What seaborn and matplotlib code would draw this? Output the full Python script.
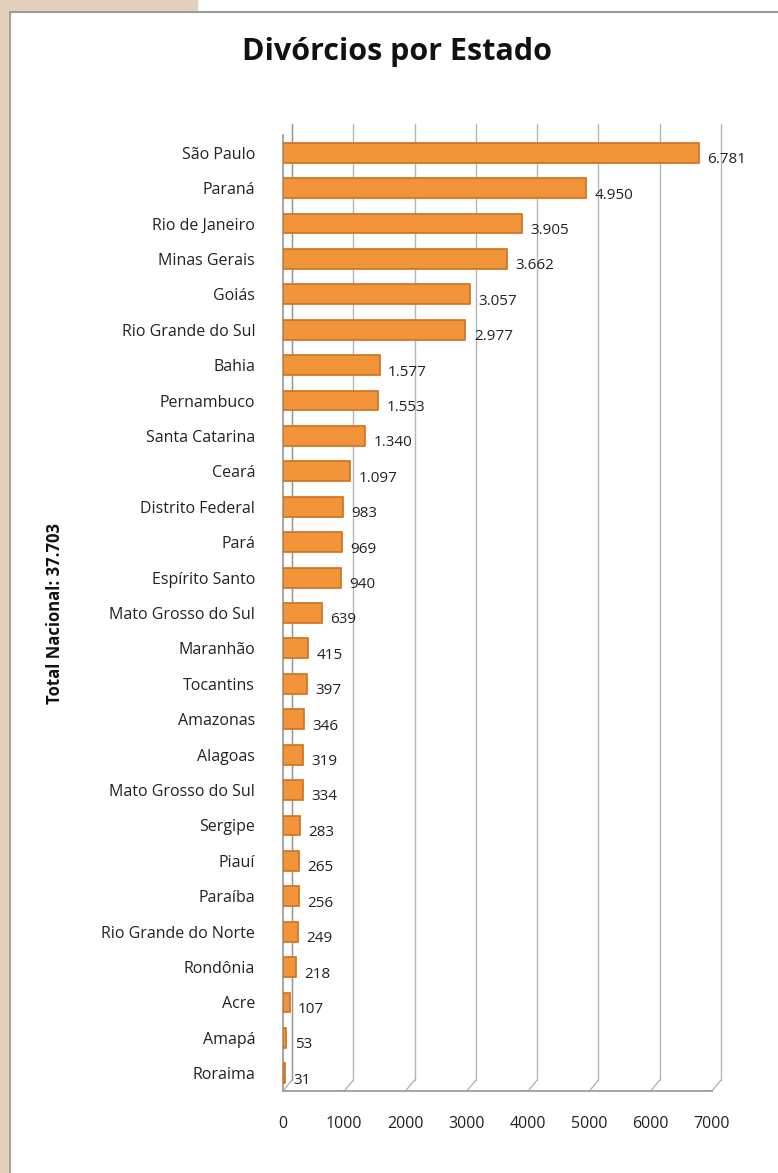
import matplotlib
matplotlib.use("Agg")
import matplotlib.pyplot as plt
import matplotlib.transforms as mtransforms
from matplotlib.patches import Rectangle
import seaborn as sns
import pandas as pd

states = ["São Paulo", "Paraná", "Rio de Janeiro", "Minas Gerais", "Goiás",
          "Rio Grande do Sul", "Bahia", "Pernambuco", "Santa Catarina", "Ceará",
          "Distrito Federal", "Pará", "Espírito Santo", "Mato Grosso do Sul",
          "Maranhão", "Tocantins", "Amazonas", "Alagoas", "Mato Grosso do Sul",
          "Sergipe", "Piauí", "Paraíba", "Rio Grande do Norte", "Rondônia",
          "Acre", "Amapá", "Roraima"]
divorces = [6781, 4950, 3905, 3662, 3057, 2977, 1577, 1553, 1340, 1097,
            983, 969, 940, 639, 415, 397, 346, 319, 334, 283, 265, 256,
            249, 218, 107, 53, 31]
xticks = [0, 1000, 2000, 3000, 4000, 5000, 6000, 7000]
title = "Divórcios por Estado"
ylabel = "Total Nacional: 37.703"

# unique row keys (two entries share the same label in the source chart)
df = pd.DataFrame({"estado": states, "divorcios": divorces})
df["key"] = [f"{i:02d}" for i in range(len(df))]

sns.set_theme(style="white")
plt.rcParams["font.family"] = ["Open Sans", "DejaVu Sans"]

W, H = 778, 1173
fig = plt.figure(figsize=(W / 100, H / 100), dpi=100)
fig.patch.set_facecolor("white")

# Decorative background frame
tan = "#e2d0bd"
fig.add_artist(Rectangle((0, 0), 10 / W, 1, transform=fig.transFigure, color=tan, zorder=0))
fig.add_artist(Rectangle((0, 1 - 11 / H), 197 / W, 11 / H, transform=fig.transFigure, color=tan, zorder=0))
fig.add_artist(plt.Line2D([10 / W, 1], [1 - 12 / H, 1 - 12 / H], transform=fig.transFigure,
                          color="#9a9a9a", lw=1.5))
fig.add_artist(plt.Line2D([10 / W, 10 / W], [0, 1 - 12 / H], transform=fig.transFigure,
                          color="#9a9a9a", lw=1.2))

left, right = 283 / W, 712 / W
top, bottom = 1 - 135 / H, 1 - 1091 / H
ax = fig.add_axes([left, bottom, right - left, top - bottom])
ax.set_facecolor("none")

sns.barplot(data=df, y="key", x="divorcios", orient="h", ax=ax,
            color="#f29439", edgecolor="#d0701f", linewidth=1.2, width=0.56,
            saturation=1, zorder=3)

ax.set_xlim(0, 7000)
ax.set_ylim(len(states) - 0.5, -0.5)
ax.set_yticks(range(len(states)))
ax.set_yticklabels(df["estado"])

# pseudo-3D back-wall gridlines
off = mtransforms.offset_copy(ax.transData, fig=fig, x=9, y=11, units="dots")
for xv in xticks:
    ax.plot([xv, xv], [len(states) - 0.5, -0.5], transform=off, color="#b5b5b5",
            lw=1.0, zorder=1, clip_on=False)
    ax.annotate("", xy=(xv, len(states) - 0.5), xycoords="data",
                xytext=(9, 11), textcoords="offset pixels",
                arrowprops=dict(arrowstyle="-", color="#b5b5b5", lw=1.0,
                                shrinkA=0, shrinkB=0), zorder=1)
ax.plot([0, 0], [len(states) - 0.5, -0.5], transform=off, color="#9a9a9a", lw=1.0,
        zorder=1, clip_on=False)

for s in ["top", "right"]:
    ax.spines[s].set_visible(False)
ax.spines["bottom"].set_color("#9a9a9a")
ax.spines["left"].set_color("#9a9a9a")

ax.set_xticks(xticks)
ax.set_xticklabels([str(v) for v in xticks], fontsize=11.5, color="#222222")
ax.tick_params(axis="x", length=4, color="#9a9a9a", pad=14)
ax.tick_params(axis="y", length=0, pad=20)
for lbl in ax.get_yticklabels():
    lbl.set_fontsize(11.5)
    lbl.set_color("#222222")

for i, v in enumerate(df["divorcios"]):
    txt = f"{v:,}".replace(",", ".")
    ax.annotate(txt, xy=(v, i), xytext=(6, -5), textcoords="offset points",
                va="center", ha="left", fontsize=11, color="#222222", zorder=4)

ax.set_xlabel("")
ax.set_ylabel(ylabel, fontsize=12, fontweight="bold", color="#111111", labelpad=0)
ax.yaxis.set_label_coords(-(283 - 64) / (712 - 283), 0.5)

fig.text(397 / W, 1 - 52 / H, title, ha="center", va="center", fontsize=22,
         fontweight="bold", color="#111111")

fig.savefig("out.png", dpi=100, facecolor=fig.get_facecolor())
